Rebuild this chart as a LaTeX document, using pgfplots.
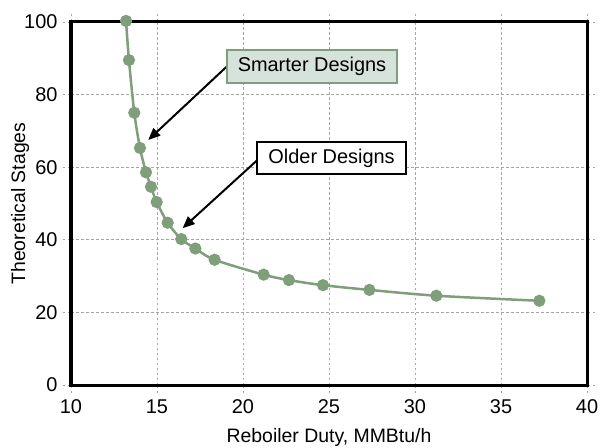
\documentclass[border=0pt]{standalone}
\usepackage{pgfplots}
\pgfplotsset{compat=1.18}
\usepackage{fontspec}
\setmainfont{Liberation Sans}
\usetikzlibrary{arrows.meta}

\definecolor{curvegreen}{RGB}{127,158,122}
\definecolor{boxfill}{RGB}{214,226,220}

\begin{document}
\begin{tikzpicture}
	\useasboundingbox (-71bp,-63bp) rectangle (529bp,385bp);
	\begin{axis}[
		scale only axis, width=516bp, height=363bp,
		xmin=10, xmax=40, ymin=0, ymax=100,
		xtick={10,15,...,40}, ytick={0,20,...,100},
		clip=false,
		grid=major,
		major grid style={gray!70, line width=0.8bp, dash pattern=on 2.5bp off 2.5bp},
		tick align=outside, major tick length=8bp,
		major tick style={gray!70, line width=0.8bp, dash pattern=on 2.5bp off 2.5bp},
		axis line style={draw=none},
		/pgf/number format/assume math mode=true,
		tick label style={font=\fontsize{20}{22}\selectfont},
		xticklabel style={yshift=-3bp},
		yticklabel style={xshift=-2bp},
		label style={font=\fontsize{19.5}{22}\selectfont},
		xlabel={Reboiler Duty, MMBtu/h},
		ylabel={Theoretical Stages},
		xlabel style={at={(axis description cs:0.5,-0.1433)}, anchor=center},
		ylabel style={at={(axis description cs:-0.0988,0.5)}, anchor=center},
	]
	% heavy frame drawn by hand, under the curve
	\path[draw=black, line width=3bp, solid] (axis cs:10,0) -- (axis cs:40,0) -- (axis cs:40,100) -- (axis cs:10,100) -- cycle;

	\addplot[curvegreen, line width=2.5bp, smooth, tension=0.5,
		mark=*, mark size=4.8bp, mark options={solid, fill=curvegreen, draw=none}]
	coordinates {
		(13.20,100.3)
		(13.37,89.5)
		(13.68,75.0)
		(14.01,65.3)
		(14.36,58.6)
		(14.65,54.6)
		(14.98,50.4)
		(15.62,44.7)
		(16.41,40.2)
		(17.23,37.6)
		(18.35,34.5)
		(21.20,30.4)
		(22.67,28.9)
		(24.65,27.5)
		(27.35,26.2)
		(31.24,24.6)
		(37.23,23.2)
	};

	\draw[-{Triangle[length=12bp, width=10bp]}, line width=2bp] (axis cs:19.05,87.7) -- (axis cs:14.49,67.5);
	\draw[-{Triangle[length=12bp, width=10bp]}, line width=2bp] (axis cs:20.89,62.2) -- (axis cs:16.49,43.2);

	\node[draw=curvegreen, fill=boxfill, line width=2.2bp, minimum width=170bp, minimum height=33bp, inner sep=0pt,
		font=\fontsize{20}{22}\selectfont] at (axis cs:24.01,87.7) {Smarter Designs};
	\node[draw=black, fill=white, line width=2.2bp, minimum width=149bp, minimum height=32bp, inner sep=0pt,
		font=\fontsize{20}{22}\selectfont] at (axis cs:25.15,62.5) {Older Designs};
	\end{axis}
\end{tikzpicture}
\end{document}
